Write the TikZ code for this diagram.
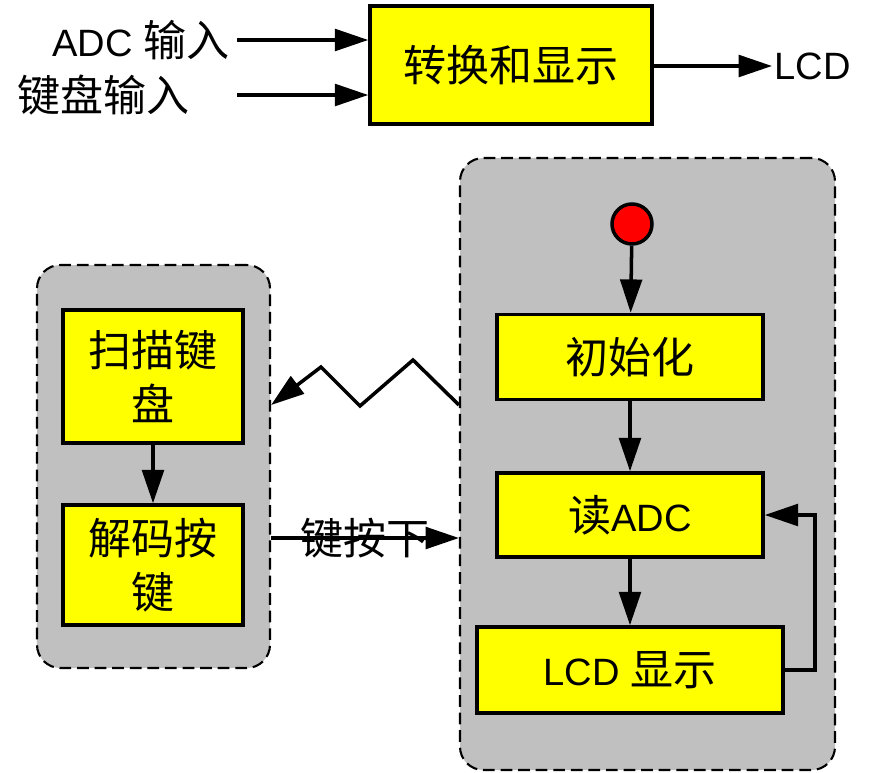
\documentclass[tikz,border=0pt]{standalone}
\usepackage{fontspec}
\setmainfont{Liberation Sans}
\newfontfamily\cjk[Scale=1.13]{Noto Sans CJK SC}
\usetikzlibrary{arrows.meta, positioning}
\definecolor{boxyellow}{RGB}{255,255,0}
\definecolor{grpgray}{RGB}{192,192,192}

\begin{document}
\begin{tikzpicture}[
    x=0.3mm, y=-0.3mm,
    every node/.style={font=\fontsize{32.5}{46}\selectfont},
    blk/.style={rectangle, draw=black, fill=boxyellow, line width=3pt,
        align=center, inner sep=0pt},
    grp/.style={rectangle, draw=black, fill=grpgray, line width=1.8pt,
        dash pattern=on 10pt off 5pt, rounded corners=7mm, inner sep=0pt},
    lbl/.style={inner sep=2pt},
    start/.style={circle, draw=black, fill=red, line width=3pt,
        minimum size=12mm, inner sep=0pt},
    arr/.style={-{Triangle[length=10mm,width=6.5mm]}, line width=3pt},
]
\useasboundingbox (0,0) rectangle (873,773);

% ====== TOP: overview ======
\node[blk, minimum width=84.6mm, minimum height=35.4mm] (conv) at (511,65)
    {\cjk 转换和显示};
\node[lbl, anchor=east] (adc) at (232,40) {ADC {\cjk 输入}};
\node[lbl, anchor=east] (kbd) at (192,95) {\cjk 键盘输入};
\node[lbl, anchor=west] (lcd) at (772,66) {LCD};
\coordinate (adcin) at (237,40);
\coordinate (kbdin) at (237,95);

\draw[arr] (adcin) -- (adcin -| conv.west);
\draw[arr] (kbdin) -- (kbdin -| conv.west);
\draw[arr] (conv.east |- lcd) -- (lcd.west);

% ====== RIGHT: main loop ======
\node[grp, minimum width=112.5mm, minimum height=183.6mm] (main) at (647.5,464) {};
\node[start] (dot) at (632,224) {};
\node[blk, minimum width=79.8mm, minimum height=25.5mm] (init) at (630,357) {\cjk 初始化};
\node[blk, minimum width=79.8mm, minimum height=25.2mm] (read) at (630,515) {{\cjk 读}ADC};
\node[blk, minimum width=91.8mm, minimum height=25.8mm] (show) at (630,670) {LCD {\cjk 显示}};

\foreach \a/\b in {dot/init, init/read, read/show}
    \draw[arr] (\a) -- (\b);
\coordinate (loop) at (815,670);
\draw[arr] (show.east) -- (loop) |- (read.east);

% ====== LEFT: keyboard task ======
\node[grp, minimum width=69.9mm, minimum height=120.9mm] (keys) at (153.5,466.5) {};
\node[blk, minimum width=54mm, minimum height=39.9mm] (scan) at (153,376.5)
    {\cjk 扫描键\\\cjk 盘};
\node[blk, minimum width=54mm, minimum height=36mm] (dec) at (153,565)
    {\cjk 解码按\\\cjk 键};
\draw[arr] (scan) -- (dec);

% zigzag signal into keyboard task
\coordinate (zz) at (0,405);
\coordinate (z1) at (413,360);
\coordinate (z2) at (360,406);
\coordinate (z3) at (321,367);
\draw[arr] (main.west |- zz) -- (z1) -- (z2) -- (z3) -- (keys.east |- zz);

% key pressed
\coordinate (kp) at (0,538);
\draw[arr] (keys.east |- kp) -- node[lbl, pos=0.5] {\cjk 键按下} (main.west |- kp);

\end{tikzpicture}
\end{document}
